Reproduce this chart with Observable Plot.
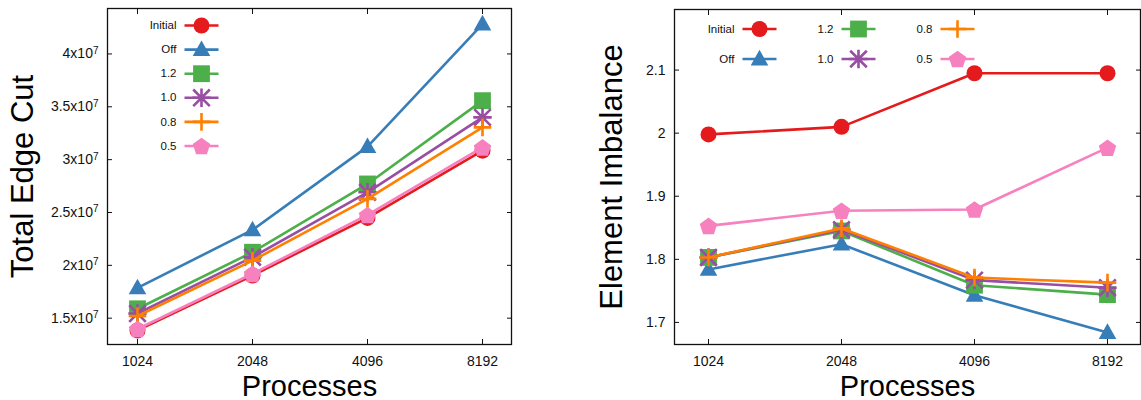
<!DOCTYPE html>
<html><head><meta charset="utf-8">
<script src="https://cdn.jsdelivr.net/npm/d3@7"></script>
<script src="https://cdn.jsdelivr.net/npm/@observablehq/plot@0.6"></script>
<style>
body{margin:0;background:#fff;}
#wrap{display:flex;width:1141px;height:400px;overflow:hidden;}
#wrap svg{display:block;}
</style></head><body><div id="wrap"></div>
<script>
// ---- data ----
const processes = [1024, 2048, 4096, 8192];
const seriesNames = ["Initial", "Off", "1.2", "1.0", "0.8", "0.5"];
const seriesColors = ["#e41a1c", "#377eb8", "#4daf4a", "#984ea3", "#ff7f00", "#f781bf"];

const edgeCutInitial = [1.384e7, 1.904e7, 2.449e7, 3.085e7];
const edgeCutOff     = [1.787e7, 2.335e7, 3.123e7, 4.283e7];
const edgeCut12      = [1.589e7, 2.124e7, 2.770e7, 3.558e7];
const edgeCut10      = [1.544e7, 2.077e7, 2.691e7, 3.400e7];
const edgeCut08      = [1.521e7, 2.045e7, 2.629e7, 3.305e7];
const edgeCut05      = [1.398e7, 1.920e7, 2.477e7, 3.116e7];

const imbInitial = [1.998, 2.010, 2.095, 2.095];
const imbOff     = [1.784, 1.824, 1.743, 1.684];
const imb12      = [1.803, 1.845, 1.759, 1.744];
const imb10      = [1.803, 1.847, 1.767, 1.755];
const imb08      = [1.803, 1.849, 1.771, 1.763];
const imb05      = [1.853, 1.877, 1.879, 1.977];

const edgeCutTicks = [1.5e7, 2e7, 2.5e7, 3e7, 3.5e7, 4e7];
const imbalanceTicks = [1.7, 1.8, 1.9, 2, 2.1];

// ---- symbols (gnuplot-like) ----
function sym(fn) { return {draw(ctx, size) { fn(ctx, Math.sqrt(size / Math.PI)); }}; }
const circleSym = sym((c, r) => { c.moveTo(r, 0); c.arc(0, 0, r, 0, 2 * Math.PI); c.closePath(); });
const triangleSym = sym((c, r) => { c.moveTo(0, -r * 1.15); c.lineTo(r * 1.1, r * 0.8); c.lineTo(-r * 1.1, r * 0.8); c.closePath(); });
const squareSym = sym((c, r) => { const h = r * 1.05; c.rect(-h, -h, 2 * h, 2 * h); });
const asteriskSym = sym((c, r) => {
  const a = r * 1.15, d = a * 0.9;
  c.moveTo(-a, 0); c.lineTo(a, 0); c.moveTo(0, -a); c.lineTo(0, a);
  c.moveTo(-d, -d); c.lineTo(d, d); c.moveTo(-d, d); c.lineTo(d, -d);
});
const plusSym = sym((c, r) => { const a = r * 1.1; c.moveTo(-a, 0); c.lineTo(a, 0); c.moveTo(0, -a); c.lineTo(0, a); });
const pentagonSym = sym((c, r) => {
  const R = r * 1.15;
  for (let k = 0; k < 5; k++) {
    const t = -Math.PI / 2 + k * 2 * Math.PI / 5;
    const x = R * Math.cos(t), y = R * Math.sin(t) + R * 0.1;
    k ? c.lineTo(x, y) : c.moveTo(x, y);
  }
  c.closePath();
});
const seriesSymbols = [circleSym, triangleSym, squareSym, asteriskSym, plusSym, pentagonSym];
const seriesFilled = [true, true, true, false, false, true];
const segmentSym = (len) => ({draw(c) { c.moveTo(-len / 2, 0); c.lineTo(len / 2, 0); }});

function markerStyle(i) {
  return seriesFilled[i]
    ? {fill: seriesColors[i], stroke: "none"}
    : {fill: "none", stroke: seriesColors[i], strokeWidth: 2.6};
}

function makeChart({series, yDomain, yTicks, yFormat, yLabel, yLabelDx, width, marginLeft, marginRight, marginTop, legendPos}) {
  const marks = [Plot.frame({stroke: "#111", strokeWidth: 1.3})];
  marks.push(
    Plot.axisX({anchor: "bottom", tickSize: -5, tickFormat: () => "", label: null}),
    Plot.axisX({anchor: "top", tickSize: -5, tickFormat: () => "", label: null}),
    Plot.axisX({anchor: "bottom", tickSize: 0, tickPadding: 12, fontSize: 14, tickFormat: d => String(d), label: null}),
    Plot.axisY(yTicks, {anchor: "left", tickSize: -5, tickFormat: () => "", label: null}),
    Plot.axisY(yTicks, {anchor: "right", tickSize: -5, tickFormat: () => "", label: null}),
    Plot.axisY(yTicks, {anchor: "left", tickSize: 0, tickPadding: 9, tickFormat: yFormat, fontSize: 14, label: null}),
    Plot.text([yLabel], {frameAnchor: "left", rotate: -90, dx: yLabelDx, textAnchor: "middle", lineAnchor: "bottom", fontSize: 31, fill: "#000"}),
    Plot.text(["Processes"], {frameAnchor: "bottom", dy: 51, lineAnchor: "bottom", fontSize: 29, fill: "#000"})
  );
  series.forEach((vals, i) => {
    const rows = vals.map((v, j) => ({p: processes[j], v, s: seriesNames[i]}));
    marks.push(Plot.line(rows, {x: "p", y: "v", stroke: seriesColors[i], strokeWidth: 2.6}));
    marks.push(Plot.dot(rows, {x: "p", y: "v", symbol: seriesSymbols[i], r: 8, ...markerStyle(i)}));
  });
  seriesNames.forEach((name, i) => {
    const L = legendPos(i);
    marks.push(Plot.text([name], {frameAnchor: "top-left", dx: L.tx, dy: L.y, textAnchor: "end", lineAnchor: "middle", fontSize: 11.5, fill: "#111"}));
    marks.push(Plot.dot([name], {frameAnchor: "top-left", dx: L.mx, dy: L.y, symbol: segmentSym(34), r: 8, fill: "none", stroke: seriesColors[i], strokeWidth: 2.6}));
    marks.push(Plot.dot([name], {frameAnchor: "top-left", dx: L.mx, dy: L.y, symbol: seriesSymbols[i], r: 8, ...markerStyle(i)}));
  });
  const svg = Plot.plot({
    width, height: 400,
    marginLeft, marginRight, marginTop, marginBottom: 56,
    style: {fontFamily: "'Liberation Sans', Arial, sans-serif", color: "#111", background: "#fff", overflow: "visible"},
    x: {type: "point", domain: processes, padding: 0.25},
    y: {domain: yDomain},
    marks
  });
  // render "x10^7" with a real superscript tspan
  svg.querySelectorAll("text").forEach(t => {
    const s = t.textContent;
    if (s.endsWith("x10^7")) {
      t.textContent = s.slice(0, -2);
      const sup = document.createElementNS("http://www.w3.org/2000/svg", "tspan");
      sup.setAttribute("dy", "-0.45em");
      sup.setAttribute("font-size", "10");
      sup.textContent = "7";
      t.appendChild(sup);
    }
  });
  return svg;
}

const left = makeChart({
  series: [edgeCutInitial, edgeCutOff, edgeCut12, edgeCut10, edgeCut08, edgeCut05],
  yDomain: [1.251e7, 4.43e7],
  yTicks: edgeCutTicks,
  yFormat: d => `${d / 1e7}x10^7`,
  yLabel: "Total Edge Cut",
  yLabelDx: -75,
  width: 560, marginLeft: 107, marginRight: 49, marginTop: 8,
  legendPos: i => ({tx: 69, mx: 94, y: 17 + 24.1 * i})
});
const right = makeChart({
  series: [imbInitial, imbOff, imb12, imb10, imb08, imb05],
  yDomain: [1.665, 2.196],
  yTicks: imbalanceTicks,
  yFormat: d => String(d),
  yLabel: "Element Imbalance",
  yLabelDx: -53,
  width: 581, marginLeft: 114, marginRight: 1, marginTop: 9,
  legendPos: i => ({tx: 60 + 99 * Math.floor(i / 2), mx: 85 + 99 * Math.floor(i / 2), y: 19.5 + 30 * (i % 2)})
});
document.getElementById("wrap").append(left, right);
</script>
</body></html>
